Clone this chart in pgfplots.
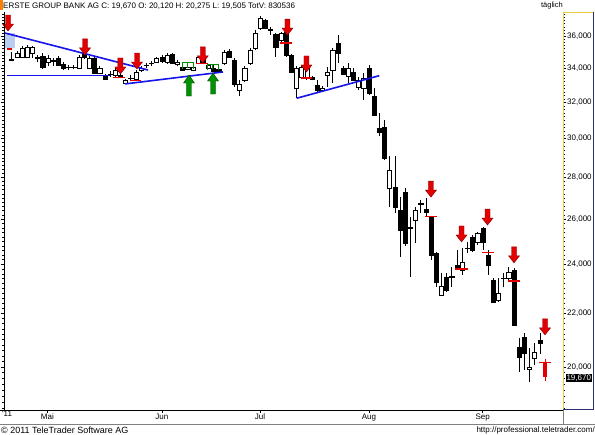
\documentclass[border=0pt]{standalone}
\usepackage{pgfplots}
\pgfplotsset{compat=1.18}
\usepackage{fontspec}
\setmainfont{Liberation Sans}
\definecolor{arrred}{RGB}{228,0,0}
\definecolor{arrdark}{RGB}{130,0,0}
\definecolor{grn}{RGB}{0,145,0}
\definecolor{grndark}{RGB}{0,70,0}
\definecolor{tlblue}{RGB}{20,20,235}
\definecolor{shade}{RGB}{185,205,242}
\definecolor{yel}{RGB}{230,205,60}
\definecolor{frameblue}{RGB}{40,50,110}

\pgfdeclareplotmark{dnarrow}{%
  \pgfpathmoveto{\pgfpoint{0pt}{0pt}}%
  \pgfpathlineto{\pgfpoint{5.5pt}{7pt}}%
  \pgfpathlineto{\pgfpoint{2.5pt}{7pt}}%
  \pgfpathlineto{\pgfpoint{2.5pt}{16pt}}%
  \pgfpathlineto{\pgfpoint{-2.5pt}{16pt}}%
  \pgfpathlineto{\pgfpoint{-2.5pt}{7pt}}%
  \pgfpathlineto{\pgfpoint{-5.5pt}{7pt}}%
  \pgfpathclose
  \pgfusepathqfillstroke}
\pgfdeclareplotmark{uparrow}{%
  \pgfpathmoveto{\pgfpoint{0pt}{0pt}}%
  \pgfpathlineto{\pgfpoint{5.5pt}{-8pt}}%
  \pgfpathlineto{\pgfpoint{2.5pt}{-8pt}}%
  \pgfpathlineto{\pgfpoint{2.5pt}{-21pt}}%
  \pgfpathlineto{\pgfpoint{-2.5pt}{-21pt}}%
  \pgfpathlineto{\pgfpoint{-2.5pt}{-8pt}}%
  \pgfpathlineto{\pgfpoint{-5.5pt}{-8pt}}%
  \pgfpathclose
  \pgfusepathqfillstroke}

% candle: index, open, high, low, close
\newcommand{\cdl}[5]{%
  \pgfmathsetmacro{\xl}{#1-0.4}%
  \pgfmathsetmacro{\xr}{#1+0.4}%
  \addplot[black, line width=0.7pt] coordinates {(#1,#4) (#1,#3)};%
  \ifdim #2pt>#5pt\relax
    \def\bfill{black}%
  \else
    \def\bfill{white}%
  \fi
  \edef\tmp{\noexpand\addplot[draw=black, fill=\bfill, line width=0.55pt] coordinates {(\xl,#2) (\xr,#2) (\xr,#5) (\xl,#5)} --cycle;}%
  \tmp}

\begin{document}
\begin{tikzpicture}[x=1pt,y=1pt]
\path[use as bounding box] (0,0) rectangle (595,435);
\fill[white] (0,0) rectangle (595,435);
\begin{axis}[
  at={(4pt,25pt)}, anchor=south west,
  scale only axis, width=559pt, height=398pt,
  xmin=-1.487, xmax=106.47,
  ymode=log, ymin=18.53, ymax=37.57,
  axis line style={draw=none},
  clip=false,
  tick align=outside,
  major tick length=3pt, minor tick length=2pt,
  tick style={black, line width=0.4pt},
  xtick pos=left,
  ytick pos=both, yticklabel pos=right,
  xtick={6.9,29.0,47.95,69.0,90.95},
  xticklabels={Mai,Jun,Jul,Aug,Sep},
  extra x ticks={-0.9},
  extra x tick labels={\textquotesingle 11},
  extra x tick style={major tick length=0pt},
  ytick={20,22,24,26,28,30,32,34,36},
  yticklabels={\mbox{20,000},\mbox{22,000},\mbox{24,000},\mbox{26,000},\mbox{28,000},\mbox{30,000},\mbox{32,000},\mbox{34,000},\mbox{36,000}},
  minor ytick={18.6,18.8,...,37.4},
  xticklabel style={font=\fontsize{8}{9}\selectfont, inner sep=1pt},
  yticklabel style={font=\fontsize{8}{9}\selectfont, inner sep=1pt, anchor=west},
]
% shaded box
\addplot[fill=shade, draw=none] coordinates {(-1.29,36.19) (0.64,36.19) (0.64,35.24) (-1.29,35.24)} --cycle;
% candles
\cdl{0}{34.56}{34.99}{34.44}{34.47}
\cdl{1}{34.69}{35.06}{34.62}{34.93}
\cdl{2}{34.69}{35.37}{34.62}{35.24}
\cdl{3}{34.69}{35.43}{34.62}{35.30}
\cdl{4}{34.93}{35.37}{34.62}{35.30}
\cdl{5}{34.69}{34.81}{34.38}{34.62}
\cdl{6}{34.75}{34.93}{33.95}{34.07}
\cdl{7}{34.38}{34.81}{34.13}{34.62}
\cdl{8}{34.50}{34.62}{34.13}{34.44}
\cdl{9}{34.62}{34.75}{34.13}{34.19}
\cdl{10}{34.25}{34.38}{33.89}{34.01}
\cdl{11}{34.07}{34.19}{33.89}{34.04}
\cdl{12}{34.04}{34.19}{33.95}{34.07}
\cdl{13}{34.01}{34.81}{33.95}{34.69}
\cdl{14}{34.87}{34.99}{34.56}{34.69}
\cdl{15}{34.01}{34.75}{33.95}{34.62}
\cdl{16}{34.62}{34.69}{33.65}{33.71}
\cdl{17}{33.71}{34.13}{33.65}{34.01}
\cdl{18}{33.53}{33.65}{33.29}{33.35}
\cdl{19}{33.65}{33.83}{33.47}{33.61}
\cdl{20}{33.59}{34.01}{33.47}{33.89}
\cdl{21}{33.59}{33.77}{33.41}{33.53}
\cdl{22}{33.12}{33.35}{33.06}{33.29}
\cdl{23}{33.41}{33.59}{33.24}{33.38}
\cdl{24}{33.35}{33.89}{33.29}{33.77}
\cdl{25}{33.89}{34.13}{33.77}{34.01}
\cdl{26}{34.19}{34.32}{34.01}{34.16}
\cdl{27}{34.32}{34.44}{34.13}{34.29}
\cdl{28}{34.38}{34.69}{34.32}{34.62}
\cdl{29}{34.69}{34.81}{34.32}{34.44}
\cdl{30}{34.38}{34.93}{34.25}{34.81}
\cdl{31}{34.87}{34.93}{34.25}{34.32}
\cdl{32}{34.25}{34.50}{34.13}{34.38}
\cdl{33}{34.07}{34.25}{33.83}{33.89}
\cdl{34}{33.95}{34.25}{33.89}{34.07}
\cdl{35}{33.89}{34.25}{33.83}{34.07}
\cdl{36}{34.32}{34.75}{34.25}{34.69}
\cdl{37}{34.62}{34.75}{34.25}{34.32}
\cdl{38}{34.01}{34.25}{33.95}{34.19}
\cdl{39}{34.01}{34.19}{33.77}{33.83}
\cdl{40}{33.95}{34.13}{33.71}{33.77}
\cdl{41}{34.32}{35.12}{34.19}{34.99}
\cdl{42}{35.06}{35.18}{34.62}{34.69}
\cdl{43}{34.50}{34.62}{32.88}{33.06}
\cdl{44}{32.71}{33.29}{32.36}{33.06}
\cdl{45}{33.29}{34.13}{33.18}{34.01}
\cdl{46}{34.32}{35.24}{34.19}{35.12}
\cdl{47}{35.24}{36.39}{35.12}{36.19}
\cdl{48}{36.52}{37.30}{36.39}{37.17}
\cdl{49}{37.04}{37.10}{36.45}{36.52}
\cdl{50}{36.45}{36.58}{36.06}{36.39}
\cdl{51}{36.13}{36.19}{34.69}{35.30}
\cdl{52}{35.75}{36.26}{35.49}{36.19}
\cdl{53}{36.26}{36.39}{34.69}{34.81}
\cdl{54}{34.81}{34.87}{33.71}{33.77}
\cdl{55}{32.82}{34.13}{32.25}{34.01}
\cdl{56}{33.47}{34.19}{33.41}{34.07}
\cdl{57}{33.41}{34.13}{33.29}{34.01}
\cdl{58}{33.47}{33.53}{33.29}{33.35}
\cdl{59}{33.00}{33.29}{32.59}{32.71}
\cdl{60}{32.71}{32.94}{32.65}{32.82}
\cdl{61}{33.59}{34.07}{32.88}{33.77}
\cdl{62}{33.89}{35.24}{33.12}{35.12}
\cdl{63}{35.56}{36.06}{34.32}{34.93}
\cdl{64}{34.01}{34.13}{33.59}{33.65}
\cdl{65}{33.53}{34.32}{33.12}{34.01}
\cdl{66}{33.77}{34.01}{33.24}{33.29}
\cdl{67}{32.88}{33.47}{32.71}{33.29}
\cdl{68}{32.82}{33.71}{32.13}{33.41}
\cdl{69}{34.01}{34.19}{32.42}{32.53}
\cdl{70}{32.36}{32.82}{31.24}{31.29}
\cdl{71}{30.57}{31.40}{30.15}{30.35}
\cdl{72}{30.63}{31.01}{28.88}{28.99}
\cdl{73}{27.49}{29.09}{26.57}{28.38}
\cdl{74}{27.53}{29.09}{26.29}{26.57}
\cdl{75}{26.43}{27.04}{24.31}{25.51}
\cdl{76}{27.29}{27.49}{24.80}{24.93}
\cdl{77}{25.64}{26.11}{23.46}{25.60}
\cdl{78}{25.96}{26.57}{24.93}{26.43}
\cdl{79}{26.71}{26.90}{26.29}{26.76}
\cdl{80}{26.48}{26.99}{26.11}{26.34}
\cdl{81}{26.11}{26.15}{24.18}{24.40}
\cdl{82}{24.49}{24.53}{23.05}{23.26}
\cdl{83}{22.73}{23.63}{22.69}{23.09}
\cdl{84}{23.46}{23.63}{22.85}{22.93}
\cdl{85}{23.46}{23.88}{23.05}{23.51}
\cdl{86}{23.97}{24.62}{23.76}{23.80}
\cdl{87}{23.76}{24.71}{23.55}{24.10}
\cdl{88}{24.71}{24.97}{24.49}{24.67}
\cdl{89}{25.19}{25.28}{24.53}{24.62}
\cdl{90}{24.97}{25.42}{24.84}{25.37}
\cdl{91}{25.60}{25.64}{24.62}{24.97}
\cdl{92}{24.40}{24.62}{23.55}{23.97}
\cdl{93}{23.34}{23.42}{22.43}{22.45}
\cdl{94}{22.53}{23.42}{22.45}{22.81}
\cdl{95}{23.42}{23.63}{23.05}{23.40}
\cdl{96}{23.42}{23.88}{23.34}{23.68}
\cdl{97}{23.76}{23.84}{21.51}{21.55}
\cdl{98}{20.72}{21.06}{19.82}{20.36}
\cdl{99}{21.10}{21.25}{19.89}{20.50}
\cdl{100}{19.93}{20.69}{19.47}{20.00}
\cdl{101}{20.32}{20.87}{20.07}{20.54}
\cdl{102}{20.98}{21.25}{20.47}{20.87}
% last candle (red)
\addplot[arrred, line width=0.8pt] coordinates {(103,19.505) (103,20.275)};
\addplot[draw=arrred, fill=arrred, line width=0.5pt] coordinates {(102.7,20.12) (103.3,20.12) (103.3,19.67) (102.7,19.67)} --cycle;
% trend lines
\addplot[tlblue, line width=1.6pt] coordinates {(-1.29,36.19) (26.32,33.89)};
\addplot[tlblue, line width=1.6pt] coordinates {(-0.91,33.55) (18.98,33.55)};
\addplot[tlblue, line width=1.6pt] coordinates {(21.88,33.06) (40.81,33.77)};
\addplot[tlblue, line width=1.6pt] coordinates {(55.04,32.23) (70.99,33.55)};
% stop lines
\addplot[arrred, line width=1.2pt] coordinates {(-0.92,35.18) (0.08,35.18)};
\addplot[arrred, line width=1.2pt] coordinates {(19.55,33.44) (21.85,33.44)};
\addplot[arrred, line width=1.2pt] coordinates {(22.9,33.24) (24.9,33.24)};
\addplot[arrred, line width=1.2pt] coordinates {(35.65,34.26) (37.85,34.26)};
\addplot[arrred, line width=1.2pt] coordinates {(51.85,35.56) (54.15,35.56)};
\addplot[arrred, line width=1.2pt] coordinates {(55.8,33.41) (58.0,33.41)};
\addplot[arrred, line width=1.2pt] coordinates {(79.9,26.13) (82.1,26.13)};
\addplot[arrred, line width=1.2pt] coordinates {(85.65,23.80) (88.15,23.80)};
\addplot[arrred, line width=1.2pt] coordinates {(90.9,24.49) (93.1,24.49)};
\addplot[arrred, line width=1.2pt] coordinates {(95.85,23.30) (98.15,23.30)};
\addplot[arrred, line width=1.4pt] coordinates {(101.9,20.16) (104.1,20.16)};
% green brackets
\addplot[grn, line width=0.8pt] coordinates {(32.9,33.95) (32.9,34.35) (35.0,34.35) (35.0,33.95)};
\addplot[grn, line width=0.8pt] coordinates {(34.0,34.35) (34.0,34.0)};
\addplot[grn, line width=0.8pt] coordinates {(37.7,33.89) (37.7,34.23) (39.84,34.23) (39.84,33.89)};
\addplot[grn, line width=0.8pt] coordinates {(38.8,34.23) (38.8,33.92)};
% arrows
\addplot[only marks, mark=dnarrow, draw=arrdark, fill=arrred, line width=0.4pt] coordinates {(-0.71,36.32) (14.16,34.81) (21.0,33.65) (24.2,33.95) (36.9,34.32) (53.26,36.06) (56.93,33.77) (80.97,27.04) (86.87,24.97) (91.89,25.73) (97.01,24.06) (103.0,21.17)};
\addplot[only marks, mark=uparrow, draw=grndark, fill=grn, line width=0.4pt] coordinates {(34.24,33.59) (38.88,33.71)};
\end{axis}
% frame
\fill[orange] (0,425) rectangle (2.5,435);
\draw[black, line width=0.6pt] (4,25) -- (4,423);
\draw[black, line width=0.6pt] (0,25) -- (563,25);
\draw[yel, line width=0.8pt] (563,25) -- (563,423) -- (593,423);
\draw[frameblue, line width=1pt] (593.5,423) -- (593.5,25) -- (563,25);
\draw[gray, line width=0.6pt] (563,25) -- (563,11);
\draw[gray, line width=0.6pt] (0,11) -- (595,11);
\node[fill=black, text=white, inner sep=0.8pt, font=\fontsize{8}{9}\selectfont, anchor=west] at (565.5,57) {19,670};
\node[anchor=west, inner sep=0pt, font=\fontsize{8}{9.6}\selectfont] at (3,429) {ERSTE GROUP BANK AG C: 19,670 O: 20,120 H: 20,275 L: 19,505 TotV: 830536};
\node[anchor=east, inner sep=0pt, font=\fontsize{7.5}{9}\selectfont] at (563,429) {täglich};
\node[anchor=west, inner sep=0pt, font=\fontsize{9}{10}\selectfont] at (1,4.5) {© 2011 TeleTrader Software AG};
\node[anchor=east, inner sep=0pt, font=\fontsize{8}{9}\selectfont] at (595,4.5) {http://professional.teletrader.com/};
\end{tikzpicture}
\end{document}
